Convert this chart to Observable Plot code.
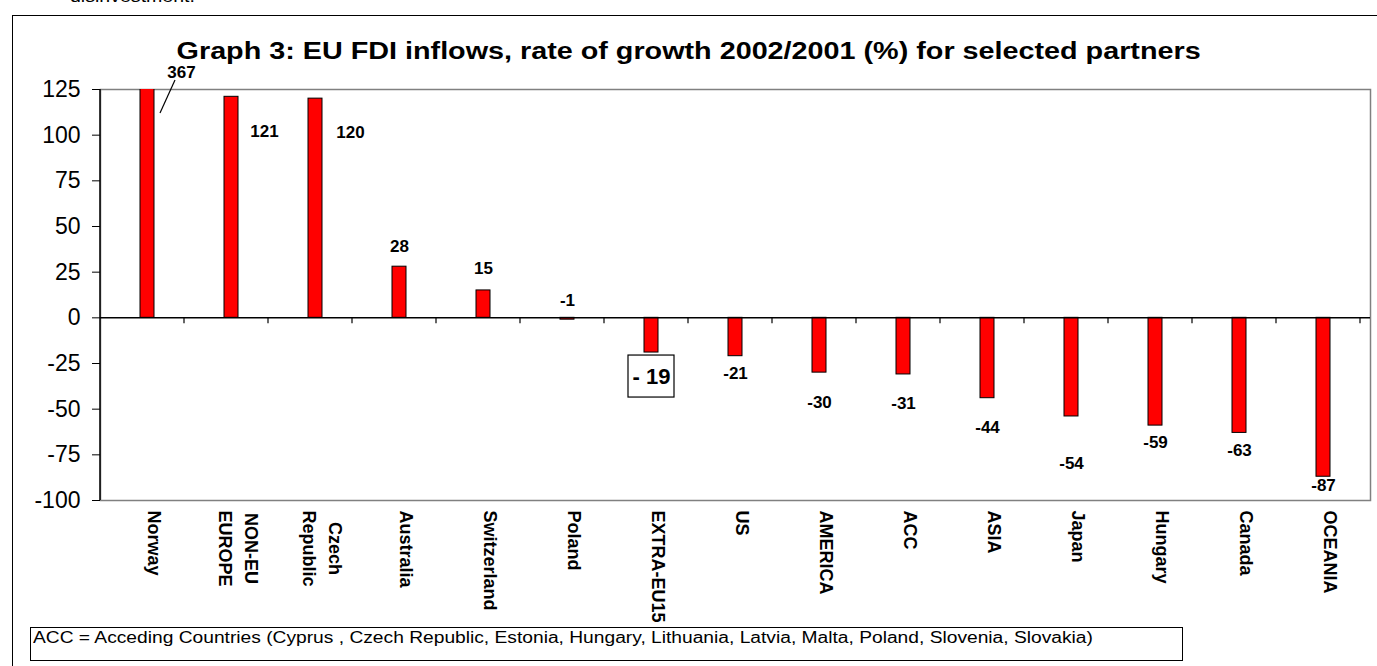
<!DOCTYPE html>
<html><head><meta charset="utf-8">
<script src="https://cdn.jsdelivr.net/npm/d3@7"></script>
<script src="https://cdn.jsdelivr.net/npm/@observablehq/plot@0.6"></script>
<style>
body{margin:0;background:#fff;font-family:"Liberation Sans",Arial,sans-serif;color:#000;}
#wrap{position:relative;width:1377px;height:666px;overflow:hidden;}
#outer{position:absolute;left:12px;top:15px;width:1400px;height:700px;border:1.5px solid #000;box-sizing:border-box;}
#cut{position:absolute;left:70px;top:-12px;font-size:17px;line-height:17px;white-space:nowrap;transform:scaleX(1.15);transform-origin:left;}
#title{position:absolute;left:0;width:1377px;top:40px;text-align:center;font-weight:bold;font-size:23px;line-height:23px;white-space:nowrap;transform:scaleX(1.25);transform-origin:688px 50%;}
#chart{position:absolute;left:0;top:0;}
#note{position:absolute;left:30px;top:627px;width:1153px;height:34px;border:1.5px solid #000;box-sizing:border-box;font-size:16px;padding-left:2px;line-height:19px;white-space:nowrap;}
#note span{display:inline-block;transform:scaleX(1.2);transform-origin:left;}
</style></head>
<body>
<div id="wrap">
  <div id="outer"></div>
  <div id="cut">disinvestment.</div>
  <div id="chart"></div>
  <div id="title">Graph 3: EU FDI inflows, rate of growth 2002/2001 (%) for selected partners</div>
  <div id="note"><span>ACC = Acceding Countries (Cyprus , Czech Republic, Estonia, Hungary, Lithuania, Latvia, Malta, Poland, Slovenia, Slovakia)</span></div>
</div>
<script>
// ---- data ----
const categories = ["Norway","NON-EU\nEUROPE","Czech\nRepublic","Australia","Switzerland","Poland","EXTRA-EU15","US","AMERICA","ACC","ASIA","Japan","Hungary","Canada","OCEANIA"];
const growth = [367,121,120,28,15,-1,-19,-21,-30,-31,-44,-54,-59,-63,-87];
const valueLabels = ["367","121","120","28","15","-1","- 19","-21","-30","-31","-44","-54","-59","-63","-87"];
const yTicks = [-100,-75,-50,-25,0,25,50,75,100,125];

// ---- styling (label placement offsets in px, relative to bar end) ----
const labelOffsets = [[34,-17],[33,35],[35,34],[0,-20],[0,-22],[0,-19],[0,24],[0,17],[0,30],[0,29],[0,29],[0,47],[0,17],[0,18],[0,9]];
const FONT = "'Liberation Sans', Arial, sans-serif";
const yMin = -100, yMax = 125;

const rows = categories.map((c, i) => ({cat: c, v: growth[i], label: valueLabels[i]}));
const clampV = d => Math.max(yMin, Math.min(yMax, d.v));

// measure text for centering multi-line rotated labels
const ctx = document.createElement("canvas").getContext("2d");
ctx.font = "bold 18px " + FONT;

const xLabelMarks = categories.flatMap(c => {
  const lines = c.split("\n");
  if (lines.length === 1) {
    return [Plot.text([c], {x: d => d, frameAnchor: "bottom", text: d => d, rotate: 90, textAnchor: "start", dy: 10, fontSize: 18, fontWeight: "bold"})];
  }
  const maxLen = Math.max(...lines.map(l => ctx.measureText(l).width));
  return lines.map((l, j) => Plot.text([c], {x: d => d, frameAnchor: "bottom", text: () => l, rotate: 90, textAnchor: "middle", dy: 10 + maxLen / 2, dx: j === 0 ? 13 : -13, fontSize: 18, fontWeight: "bold"}));
});

const valueLabelMarks = rows.map((r, i) => Plot.text([r], {
  x: "cat", y: clampV, text: "label",
  dx: labelOffsets[i][0], dy: labelOffsets[i][1],
  fontSize: r.cat === "EXTRA-EU15" ? 22 : 17, fontWeight: "bold"
}));

function decorations(...args) {
  const scales = args.find(a => a && typeof a.x === "function" && typeof a.y === "function");
  const dims = args.find(a => a && a.marginLeft !== undefined && a.width !== undefined);
  const x = scales.x, y = scales.y;
  const n = categories.length;
  const bw = x.bandwidth ? x.bandwidth() : (dims.width - dims.marginLeft - dims.marginRight) / n;
  const g = d3.create("svg:g").attr("fill", "none").attr("stroke", "black");
  const y0 = y(0);
  for (let k = 1; k <= n; k++) {
    const px = dims.marginLeft + k * bw;
    g.append("line").attr("x1", px).attr("x2", px).attr("y1", y0).attr("y2", y0 + 6).attr("stroke-width", 1.2);
  }
  g.append("line").attr("x1", dims.marginLeft).attr("x2", dims.marginLeft)
    .attr("y1", dims.marginTop).attr("y2", dims.height - dims.marginBottom).attr("stroke-width", 1.5);
  const cN = x(categories[0]) + bw / 2, yTop = y(yMax);
  g.append("line").attr("x1", cN + 28).attr("y1", yTop - 9).attr("x2", cN + 13).attr("y2", yTop + 24).attr("stroke-width", 1.2);
  const cE = x("EXTRA-EU15") + bw / 2, yE = y(-19);
  g.append("rect").attr("x", cE - 23).attr("y", yE + 3).attr("width", 46).attr("height", 42).attr("stroke-width", 1.2);
  return g.node();
}

const chart = Plot.plot({
  width: 1377, height: 620,
  marginLeft: 100, marginRight: 7, marginTop: 89, marginBottom: 120,
  x: {domain: categories, padding: 0, axis: null},
  y: {domain: [yMin, yMax], axis: null},
  style: {fontFamily: FONT, color: "black", background: "transparent", overflow: "visible"},
  marks: [
    Plot.frame({stroke: "#808080", strokeWidth: 1.5}),
    Plot.barY(rows, {x: "cat", y: "v", fill: "#ff0000", stroke: "black", strokeWidth: 1, insetLeft: 35, insetRight: 35, clip: true}),
    Plot.ruleY([0], {stroke: "black", strokeWidth: 1.5}),
    Plot.axisY(yTicks, {tickSize: 8, tickPadding: 12, fontSize: 23, label: null, stroke: "black", tickFormat: d => String(d)}),
    decorations,
    ...valueLabelMarks,
    ...xLabelMarks
  ]
});
document.getElementById("chart").appendChild(chart);
</script>
</body></html>
